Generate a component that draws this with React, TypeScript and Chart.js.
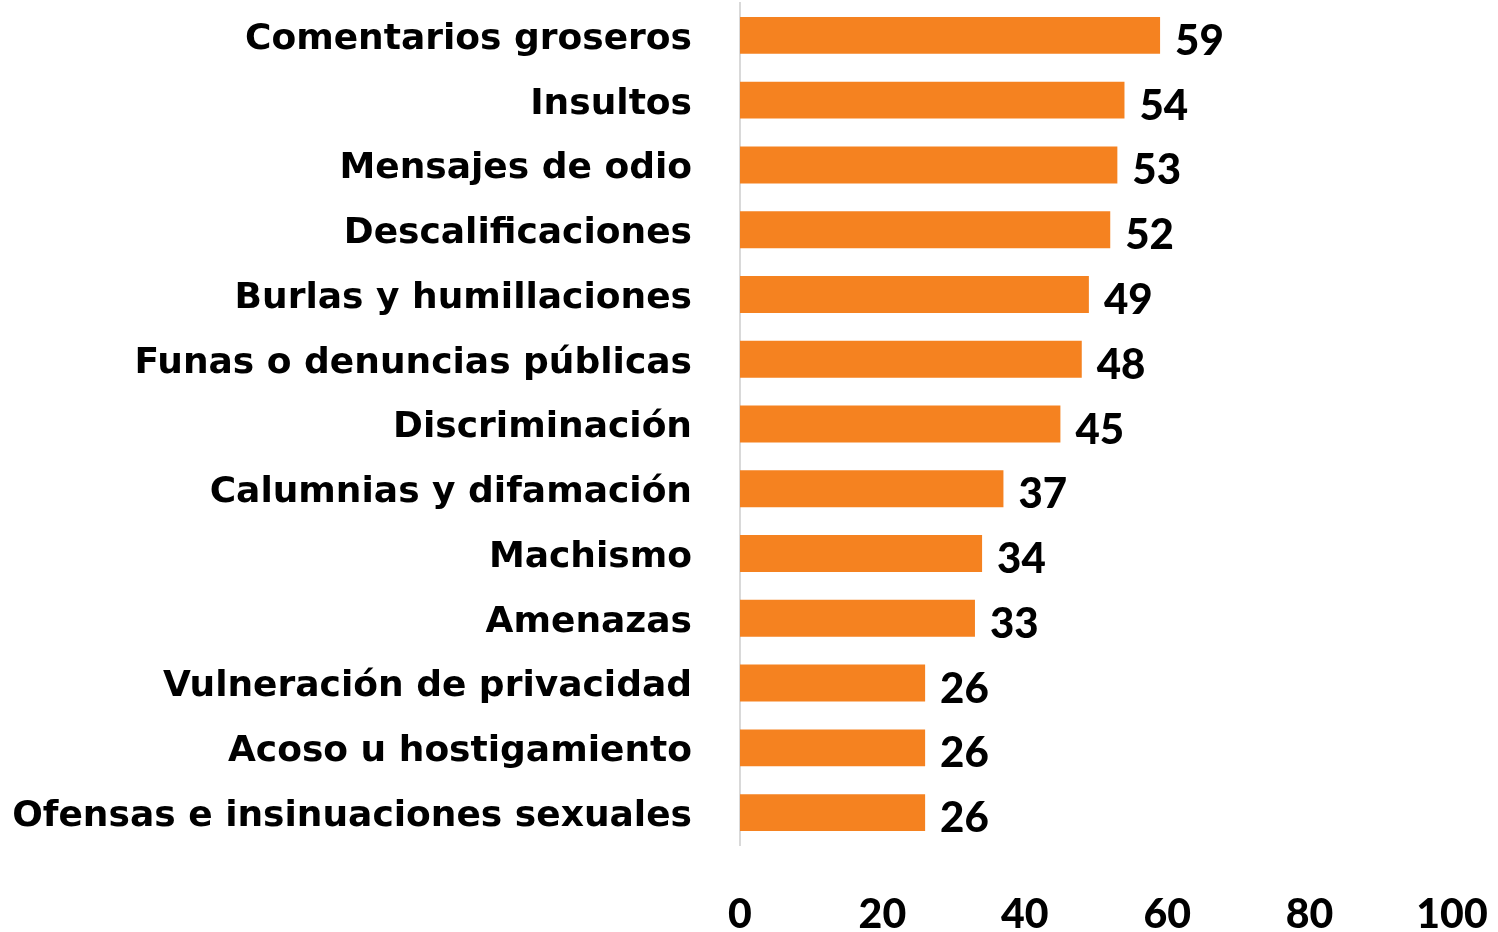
import React, { useEffect, useRef } from "react";
import { Chart, registerables } from "chart.js";

Chart.register(...registerables);

const categories = [
  "Comentarios groseros",
  "Insultos",
  "Mensajes de odio",
  "Descalificaciones",
  "Burlas y humillaciones",
  "Funas o denuncias públicas",
  "Discriminación",
  "Calumnias y difamación",
  "Machismo",
  "Amenazas",
  "Vulneración de privacidad",
  "Acoso u hostigamiento",
  "Ofensas e insinuaciones sexuales",
];

const values = [59, 54, 53, 52, 49, 48, 45, 37, 34, 33, 26, 26, 26];

const xMin = 0;
const xMax = 100;
const xStep = 20;

const LABEL_FONT = "'DejaVu Sans'";
const NUM_FONT = "Lato";
const BAR_COLOR = "#F58220";

const valueLabels = {
  id: "valueLabels",
  afterDatasetsDraw(chart: any) {
    const ctx = chart.ctx;
    const meta = chart.getDatasetMeta(0);
    ctx.save();
    ctx.font = `900 42px ${NUM_FONT}`;
    ctx.fillStyle = "#000";
    ctx.textAlign = "left";
    ctx.textBaseline = "middle";
    meta.data.forEach((bar: any, i: number) => {
      ctx.fillText(String(values[i]), bar.x + 15, bar.y + 6);
    });
    ctx.restore();
  },
};

export default function App() {
  const ref = useRef<HTMLCanvasElement | null>(null);

  useEffect(() => {
    if (!ref.current) return;
    const chart = new Chart(ref.current, {
      type: "bar",
      data: {
        labels: categories,
        datasets: [
          {
            data: values,
            backgroundColor: BAR_COLOR,
            borderWidth: 0,
            barPercentage: 0.57,
            categoryPercentage: 1,
          },
        ],
      },
      options: {
        indexAxis: "y",
        responsive: false,
        animation: false,
        layout: { padding: { top: 3, right: 46, bottom: 0, left: 0 } },
        plugins: {
          legend: { display: false },
          tooltip: { enabled: false },
        },
        scales: {
          x: {
            type: "linear",
            min: xMin,
            max: xMax,
            ticks: {
              stepSize: xStep,
              color: "#000",
              padding: 45,
              font: { family: NUM_FONT, size: 41, weight: "900" },
            },
            grid: { display: false, drawTicks: false },
            border: { display: false },
            afterFit: (s: any) => {
              s.height = 87;
              s.paddingLeft = 0;
              s.paddingRight = 0;
            },
          },
          y: {
            ticks: {
              color: "#000",
              padding: 48,
              labelOffset: 4,
              font: { family: LABEL_FONT, size: 36, weight: "bold" },
            },
            grid: { display: false, drawTicks: false },
            border: { display: true, color: "#d9d9d9", width: 2 },
            afterFit: (s: any) => {
              s.width = 740;
              s.paddingTop = 0;
              s.paddingBottom = 0;
            },
          },
        },
      },
      plugins: [valueLabels],
    });
    return () => chart.destroy();
  }, []);

  return (
    <div style={{ position: "fixed", left: 0, top: 0, width: 1498, height: 932, background: "#fff" }}>
      <canvas ref={ref} width={1498} height={932} style={{ display: "block" }} />
    </div>
  );
}
